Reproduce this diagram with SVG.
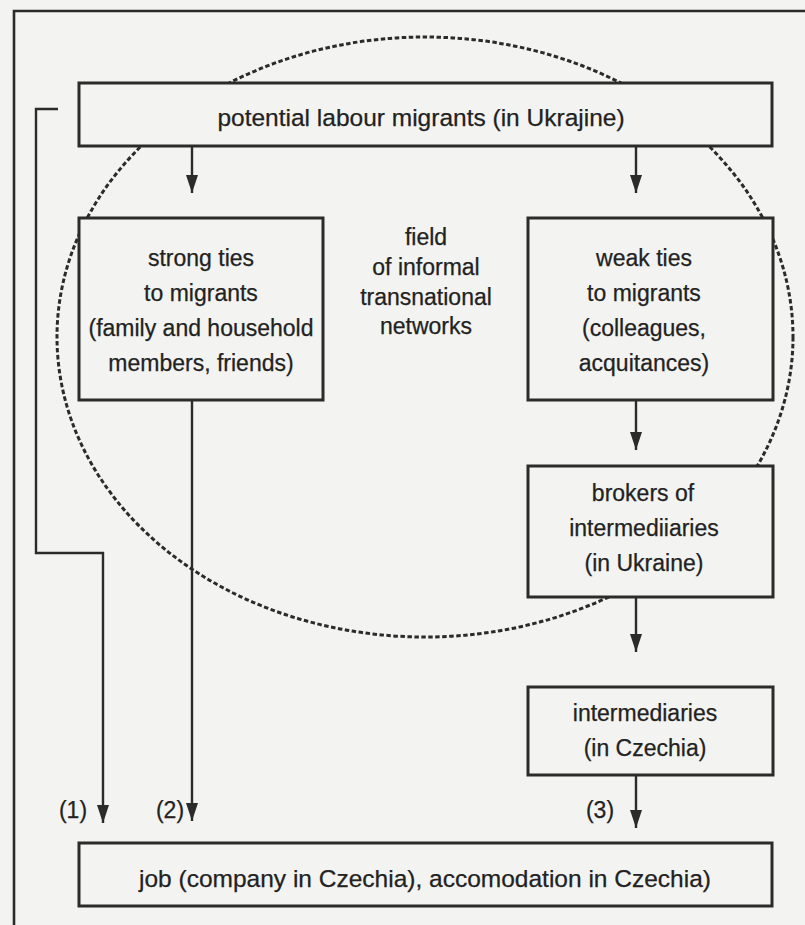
<svg xmlns="http://www.w3.org/2000/svg" width="805" height="925" viewBox="0 0 805 925">
<style>
.bg{fill:#f3f3f1}
.box{fill:#f3f3f1;stroke:#2b2b2b;stroke-width:3}
.ln{fill:none;stroke:#2b2b2b;stroke-width:2.4}
.fr{fill:none;stroke:#2b2b2b;stroke-width:2.6}
.dash{fill:none;stroke:#2b2b2b;stroke-width:3;stroke-dasharray:4.5 2.5}
text{font-family:"Liberation Sans",Arial,sans-serif;font-size:23px;fill:#222;stroke:#222;stroke-width:0.25;text-anchor:middle;dominant-baseline:central}
.big{font-size:24.5px}
</style>
<defs>
<marker id="ad" viewBox="0 0 18 12" refX="18" refY="6" markerWidth="18" markerHeight="12" markerUnits="userSpaceOnUse" orient="auto">
<path d="M0,0 L18,6 L0,12 Z" fill="#2b2b2b"/>
</marker>
</defs>
<rect class="bg" x="0" y="0" width="805" height="925"/>
<g id="frame">
<path class="fr" d="M14,925 L14,11 L805,11"/>
</g>
<g id="field">
<ellipse class="dash" cx="425" cy="337" rx="368" ry="300"/>
<text x="426" y="237">field</text>
<text x="426" y="267">of informal</text>
<text x="426" y="297">transnational</text>
<text x="426" y="326">networks</text>
</g>
<g id="connectors">
<path class="ln" d="M58,109 L36,109 L36,553 L103,553 L103,823" marker-end="url(#ad)"/>
<path class="ln" d="M192,400 L192,821" marker-end="url(#ad)"/>
<path class="ln" d="M192,146 L192,193" marker-end="url(#ad)"/>
<path class="ln" d="M636,146 L636,193" marker-end="url(#ad)"/>
<path class="ln" d="M636,400 L636,450" marker-end="url(#ad)"/>
<path class="ln" d="M636,597 L636,652" marker-end="url(#ad)"/>
<path class="ln" d="M636,775 L636,828" marker-end="url(#ad)"/>
<text x="73" y="810">(1)</text>
<text x="170" y="810">(2)</text>
<text x="600" y="810">(3)</text>
</g>
<g id="potential">
<rect class="box" x="79" y="83" width="693" height="63"/>
<text class="big" x="421" y="117">potential labour migrants (in Ukrajine)</text>
</g>
<g id="strong">
<rect class="box" x="79" y="218" width="244" height="182"/>
<text x="201" y="258">strong ties</text>
<text x="201" y="293">to migrants</text>
<text x="201" y="328">(family and household</text>
<text x="201" y="363">members, friends)</text>
</g>
<g id="weak">
<rect class="box" x="528" y="218" width="245" height="182"/>
<text x="644" y="258">weak ties</text>
<text x="644" y="293">to migrants</text>
<text x="644" y="328">(colleagues,</text>
<text x="644" y="363">acquitances)</text>
</g>
<g id="brokers">
<rect class="box" x="528" y="466" width="245" height="131"/>
<text x="643" y="493">brokers of</text>
<text x="644" y="528">intermediiaries</text>
<text x="644" y="563">(in Ukraine)</text>
</g>
<g id="intermediaries">
<rect class="box" x="528" y="687" width="245" height="88"/>
<text x="645" y="713">intermediaries</text>
<text x="645" y="748">(in Czechia)</text>
</g>
<g id="job">
<rect class="box" x="79" y="843" width="693" height="63"/>
<text class="big" x="425" y="878">job (company in Czechia), accomodation in Czechia)</text>
</g>
</svg>
